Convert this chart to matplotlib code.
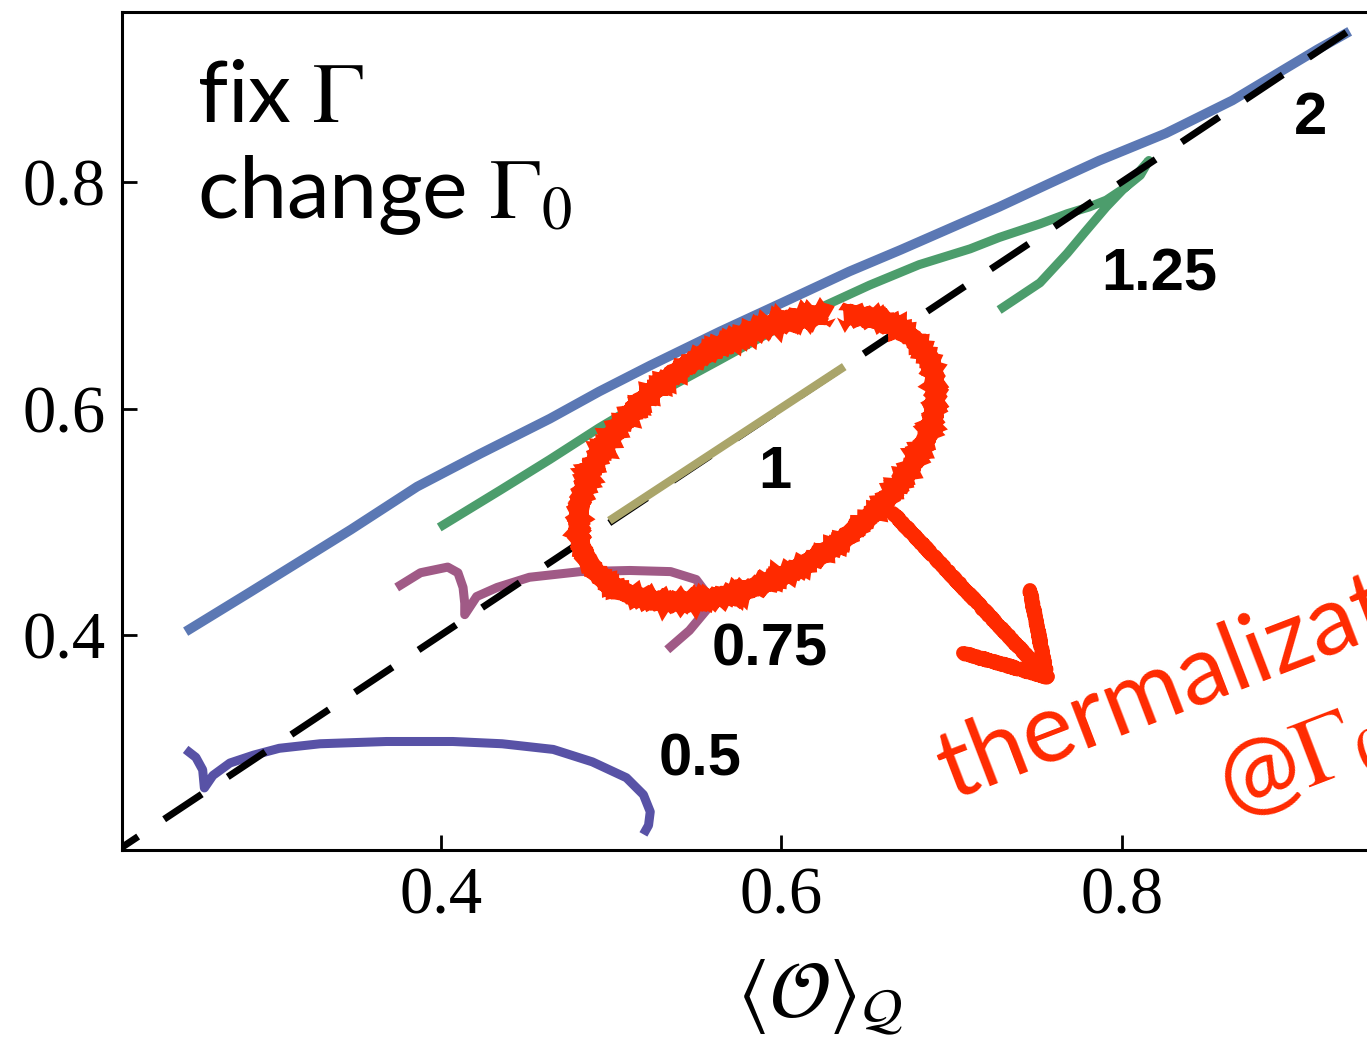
import matplotlib
matplotlib.use("Agg")
import matplotlib.pyplot as plt
from matplotlib.patches import Arc
from matplotlib.lines import Line2D
from matplotlib.transforms import IdentityTransform

plt.rcParams['mathtext.fontset'] = 'stix'

W, H = 1367, 1046

# curves (x = <O>_Q, y = vertical axis)
g2_x = [0.250, 0.288, 0.317, 0.347, 0.386, 0.423, 0.464, 0.493, 0.523, 0.564, 0.600,
        0.640, 0.670, 0.705, 0.728, 0.758, 0.787, 0.826, 0.865, 0.895, 0.915, 0.934]
g2_y = [0.403, 0.438, 0.465, 0.493, 0.531, 0.560, 0.591, 0.615, 0.638, 0.668, 0.693,
        0.721, 0.740, 0.763, 0.778, 0.799, 0.819, 0.843, 0.872, 0.899, 0.917, 0.933]

g125_x = [0.399, 0.435, 0.464, 0.493, 0.521, 0.564, 0.593, 0.623, 0.652, 0.681, 0.711,
          0.728, 0.752, 0.768, 0.781, 0.791, 0.802, 0.811, 0.816,
          0.805, 0.791, 0.778, 0.768, 0.752, 0.728]
g125_y = [0.495, 0.528, 0.555, 0.583, 0.608, 0.643, 0.667, 0.689, 0.709, 0.727, 0.741,
          0.751, 0.763, 0.772, 0.778, 0.784, 0.795, 0.806, 0.819,
          0.800, 0.778, 0.755, 0.737, 0.711, 0.687]

g1_x = [0.499, 0.637]
g1_y = [0.501, 0.637]

g075_x = [0.374, 0.388, 0.404, 0.410, 0.413, 0.414, 0.414, 0.421, 0.433, 0.452, 0.482,
          0.511, 0.535, 0.550, 0.557, 0.556, 0.546, 0.533]
g075_y = [0.442, 0.455, 0.460, 0.455, 0.442, 0.428, 0.418, 0.434, 0.442, 0.451, 0.456,
          0.457, 0.456, 0.449, 0.435, 0.422, 0.404, 0.387]

g05_x = [0.250, 0.256, 0.260, 0.261, 0.266, 0.276, 0.290, 0.305, 0.329, 0.368, 0.407,
         0.436, 0.466, 0.489, 0.509, 0.519, 0.523, 0.522, 0.519]
g05_y = [0.299, 0.292, 0.281, 0.265, 0.276, 0.287, 0.294, 0.300, 0.304, 0.306, 0.306,
         0.304, 0.299, 0.288, 0.274, 0.259, 0.244, 0.232, 0.224]

diag = [0.2, 1.0]

curves = [
    (g2_x, g2_y, '#5b78b4', 7.0, 2),
    (g125_x, g125_y, '#4c9d6c', 6.5, 2),
    (g075_x, g075_y, '#a05a86', 6.5, 2),
    (g05_x, g05_y, '#5852a6', 6.5, 2),
    (g1_x, g1_y, '#aaa56a', 6.0, 4),
]

labels = [('2', 1311, 118), ('1.25', 1159, 275), ('1', 775, 472),
          ('0.75', 770, 650), ('0.5', 700, 760)]

xticks = [0.4, 0.6, 0.8]
yticks = [0.4, 0.6, 0.8]


def fx(px):
    return px / W


def fy(py):
    return 1 - py / H


fig = plt.figure(figsize=(W / 100, H / 100), dpi=100)
ax = fig.add_axes([fx(122), fy(850), (1462 - 122) / W, (850 - 12) / H])

for xs, ys, c, lw, z in curves:
    ax.plot(xs, ys, color=c, lw=lw, solid_capstyle='butt', solid_joinstyle='round', zorder=z)

ax.plot(diag, diag, color='black', lw=5.0, dashes=(6.5, 4.5), zorder=3)

ax.set_xlim(0.2126, 1.0)
ax.set_ylim(0.2102, 0.9501)
ax.set_xticks(xticks)
ax.set_yticks(yticks)
ax.set_xticklabels([f'{v:.1f}' for v in xticks])
ax.set_yticklabels([f'{v:.1f}' for v in yticks])
ax.tick_params(direction='in', length=11, width=2, pad=12, labelsize=48)
for lab in ax.get_xticklabels() + ax.get_yticklabels():
    lab.set_family('Liberation Serif')
for s in ax.spines.values():
    s.set_linewidth(2.2)

for txt, x, y in labels:
    fig.text(fx(x), fy(y), txt, ha='center', va='center', fontsize=43,
             fontweight='bold', family='Liberation Sans')

fig.text(fx(197), fy(122), r'fix $\Gamma$', fontsize=62, family='Lato',
         ha='left', va='baseline')
fig.text(fx(197), fy(218), r'change $\Gamma_0$', fontsize=62, family='Lato',
         ha='left', va='baseline')

fig.text(fx(820), fy(998), r'$\langle\mathcal{O}\rangle_{\mathcal{Q}}$',
         fontsize=58, ha='center', va='center')

# red hand-drawn annotation
red = '#ff2a00'
ell = Arc((757, H - 458), 396, 232, angle=32, theta1=31, theta2=387,
          color=red, lw=13, transform=IdentityTransform(), zorder=10)
ell.set_sketch_params(scale=1.0, length=3, randomness=3)
fig.add_artist(ell)

for xs, ys in [([893, 1047], [513, 677]), ([1030, 1047], [590, 677]), ([963, 1047], [653, 677])]:
    ln = Line2D(xs, [H - v for v in ys], color=red, lw=10, solid_capstyle='round',
                transform=IdentityTransform(), zorder=10)
    ln.set_sketch_params(scale=1.0, length=3, randomness=3)
    fig.add_artist(ln)

fig.text(fx(952), fy(800), 'thermalization', rotation=21, rotation_mode='anchor',
         ha='left', va='baseline', color=red, fontsize=70, family='Lato')
fig.text(fx(1232), fy(818), r'@$\Gamma_0=\Gamma$', rotation=21, rotation_mode='anchor',
         ha='left', va='baseline', color=red, fontsize=70, family='Lato')

fig.savefig('out.png', dpi=100)
